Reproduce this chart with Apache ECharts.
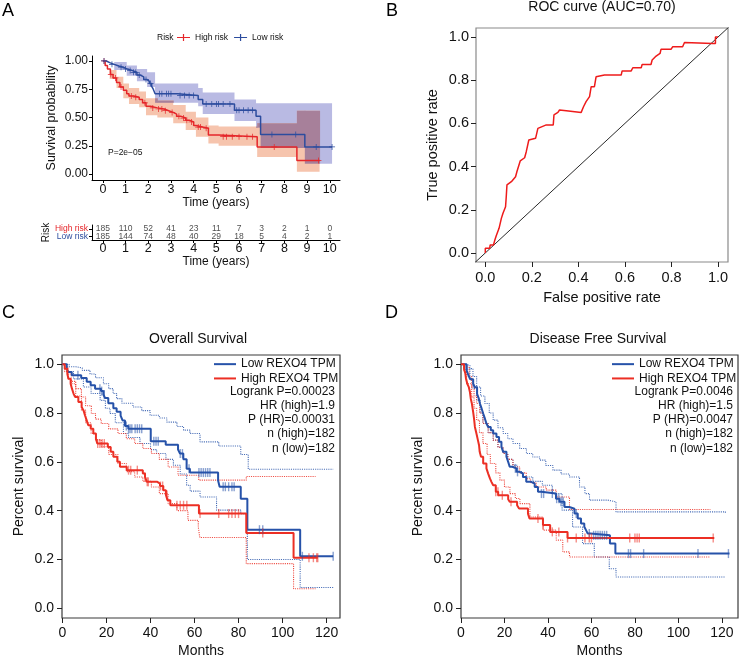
<!DOCTYPE html>
<html>
<head>
<meta charset="utf-8">
<script src="https://cdn.jsdelivr.net/npm/echarts@6/dist/echarts.min.js"></script>
<style>
  html, body { margin: 0; padding: 0; background: #fff; }
  #chart { width: 740px; height: 660px; }
</style>
</head>
<body>
<div id="chart"></div>
<script>
const FONT = 'Liberation Sans, Arial, Helvetica, sans-serif';

// ---- panel A: survival by risk group (years) ----
const aYearTicks = [0, 1, 2, 3, 4, 5, 6, 7, 8, 9, 10];
const aSurvTicks = [0, 0.25, 0.5, 0.75, 1];
// [time, survival] after each drop
const aHigh = [[0,1],[0.1,0.96],[0.2,0.93],[0.33,0.88],[0.45,0.85],[0.6,0.81],[0.75,0.77],[0.9,0.74],[1.05,0.71],[1.15,0.69],[1.35,0.68],[1.6,0.66],[1.75,0.63],[1.9,0.6],[2.1,0.585],[2.4,0.575],[2.7,0.56],[2.9,0.545],[3.1,0.53],[3.25,0.51],[3.45,0.495],[3.65,0.475],[3.8,0.46],[4.0,0.43],[4.1,0.415],[4.4,0.405],[4.65,0.345],[5.1,0.33],[6.8,0.24],[8.55,0.12],[9.55,0.12]];
const aLow = [[0,1],[0.15,0.985],[0.3,0.97],[0.5,0.955],[0.7,0.945],[0.9,0.93],[1.05,0.915],[1.3,0.9],[1.5,0.875],[1.65,0.86],[1.8,0.835],[1.95,0.82],[2.05,0.8],[2.15,0.775],[2.22,0.75],[2.3,0.71],[3.3,0.695],[4.2,0.66],[4.4,0.62],[5.8,0.565],[6.75,0.51],[6.95,0.35],[8.9,0.24],[10.1,0.24]];
// [time, lower, upper]
const aHighBand = [[0,1,1],[0.3,0.84,0.92],[0.6,0.76,0.86],[0.9,0.67,0.8],[1.15,0.62,0.76],[1.6,0.59,0.73],[1.9,0.52,0.67],[2.4,0.5,0.65],[3.1,0.45,0.61],[3.65,0.39,0.55],[4.1,0.33,0.5],[4.65,0.27,0.43],[5.1,0.25,0.42],[6.8,0.15,0.45],[8.55,0.02,0.56],[9.55,0.02,0.56]];
const aLowBand = [[0,1,1],[0.5,0.92,0.99],[1.05,0.87,0.96],[1.5,0.82,0.93],[1.95,0.77,0.9],[2.3,0.63,0.8],[4.2,0.6,0.76],[4.4,0.53,0.72],[5.8,0.47,0.66],[6.75,0.41,0.625],[6.95,0.23,0.625],[8.9,0.09,0.625],[10.1,0.09,0.625]];
const aHighCens = [0.05,0.35,0.55,0.8,1.25,1.45,1.85,2.2,2.45,2.6,2.75,3.05,3.35,3.55,3.7,3.9,4.2,4.3,4.55,5.3,5.45,5.7,6.0,6.35,6.6,7.55,9.5];
const aLowCens = [0.05,0.4,0.8,1.0,1.2,1.35,1.45,1.6,1.9,2.1,2.5,2.6,2.8,2.9,3.0,3.4,3.6,3.8,4.0,4.55,4.8,5.0,5.1,5.3,5.6,5.9,6.0,6.2,6.4,6.6,7.45,8.5,9.4,10.1];

// number at risk table
const riskGroups = ['Low risk', 'High risk'];
const riskHigh = [185, 110, 52, 41, 23, 11, 7, 3, 2, 1, 0];
const riskLow = [185, 144, 74, 48, 40, 29, 18, 5, 4, 2, 1];

// ---- panel B: ROC ----
const bTicks = [0, 0.2, 0.4, 0.6, 0.8, 1];
const rocFpr = [0,0,0.019,0.021,0.035,0.040,0.047,0.059,0.069,0.076,0.087,0.090,0.093,0.112,0.130,0.136,0.150,0.169,0.176,0.187,0.216,0.226,0.262,0.292,0.295,0.312,0.319,0.348,0.412,0.422,0.433,0.448,0.455,0.469,0.476,0.512,0.584,0.588,0.627,0.634,0.670,0.674,0.712,0.717,0.731,0.751,0.755,0.798,0.805,0.848,0.856,0.977,0.989,0.989,1.0];
const rocTpr = [0,0.022,0.022,0.037,0.037,0.056,0.080,0.114,0.160,0.184,0.214,0.26,0.315,0.330,0.353,0.377,0.426,0.441,0.469,0.523,0.531,0.577,0.593,0.593,0.639,0.651,0.662,0.659,0.651,0.677,0.701,0.724,0.770,0.770,0.816,0.824,0.824,0.843,0.843,0.858,0.858,0.873,0.873,0.894,0.909,0.924,0.943,0.943,0.955,0.955,0.975,0.970,0.970,1.0,1.0];
const bDiag = [-0.05, 1.05];

// ---- panels C / D: months ----
const monthTicks = [0, 20, 40, 60, 80, 100, 120];
const pctTicks = [0, 0.2, 0.4, 0.6, 0.8, 1];

const cLow = [[0,1],[1.9,0.982],[2.6,0.968],[4.2,0.955],[8.5,0.944],[11,0.928],[12.8,0.914],[14.8,0.9],[17.5,0.89],[18.6,0.876],[19.3,0.862],[20.8,0.84],[23.1,0.82],[24.6,0.805],[26.4,0.79],[27.3,0.77],[28.4,0.747],[29.9,0.736],[40.1,0.684],[46.9,0.67],[52.5,0.65],[53.4,0.634],[54.9,0.611],[56.4,0.572],[57.9,0.556],[70.7,0.524],[71.4,0.498],[81,0.449],[84,0.322],[108,0.213],[123,0.213]];
const cHigh = [[0,1],[1,0.982],[2.2,0.96],[2.7,0.941],[3.7,0.92],[4.3,0.9],[5,0.88],[5.7,0.866],[7.2,0.845],[8.7,0.825],[9.6,0.81],[10.2,0.791],[11,0.77],[11.7,0.75],[12.8,0.736],[14,0.716],[15.2,0.695],[15.8,0.675],[20.6,0.661],[21.9,0.641],[23.1,0.621],[24.9,0.6],[26.1,0.58],[29.2,0.566],[36.5,0.552],[37.5,0.538],[38.3,0.518],[43.1,0.511],[44.3,0.501],[45.8,0.484],[47,0.464],[47.7,0.443],[49,0.422],[62,0.388],[83.5,0.308],[105,0.207],[116,0.207]];
const cLowUp = [[0,1],[3,0.99],[6,0.985],[9,0.975],[12.5,0.96],[15,0.945],[18.6,0.92],[21,0.9],[23,0.88],[24.6,0.859],[27,0.84],[32,0.825],[36,0.81],[39.8,0.791],[44,0.78],[47.4,0.763],[52,0.745],[55,0.73],[57.9,0.716],[62.5,0.682],[71,0.665],[81,0.63],[84.4,0.57],[123,0.57]];
const cLowLo = [[0,1],[2,0.97],[5,0.94],[9.5,0.907],[13,0.88],[17.1,0.852],[19.5,0.82],[21.6,0.798],[24,0.76],[27.7,0.716],[30,0.7],[35.2,0.675],[40,0.65],[42.8,0.634],[47,0.61],[50.4,0.586],[53.5,0.55],[56.4,0.504],[58,0.48],[62.5,0.456],[70,0.402],[81,0.388],[84,0.2],[108,0.085],[123,0.085]];
const cHighUp = [[0,1],[1,0.99],[2.5,0.96],[4,0.93],[6,0.9],[8.6,0.866],[10.5,0.83],[13.1,0.798],[15,0.775],[17.6,0.757],[21,0.735],[25.2,0.716],[29,0.695],[32.8,0.675],[36.5,0.655],[40.4,0.634],[44,0.61],[48,0.579],[52.5,0.545],[61.9,0.525],[83.5,0.54],[115,0.54]];
const cHighLo = [[0,1],[1,0.97],[2.5,0.94],[4,0.92],[6,0.87],[8.6,0.812],[10.5,0.76],[13,0.716],[15,0.69],[17.6,0.662],[21,0.63],[25.2,0.593],[29,0.56],[32.8,0.538],[36.5,0.52],[40.4,0.497],[44,0.47],[48,0.429],[52,0.4],[57,0.36],[61.7,0.333],[62.4,0.29],[83.5,0.183],[105,0.08],[115,0.08]];
const cLowCens = [7,17,17.8,19,29,30,30.7,31.5,33,34,35,36,41.5,42.5,43.5,53.5,54.5,57.5,62,63,64,65,66,67,73,74,75.5,77,78,89.5,91,109,123];
const cHighCens = [16,17,18,19,30,31,34,37.5,38.5,39,44.5,45.5,47.5,52,53.5,55,56.5,62.5,71,75.5,77,78.5,80,91,112,114,115.5,116];

const dLow = [[0,1],[2.6,0.975],[3.4,0.955],[4.2,0.939],[5.6,0.92],[6.4,0.906],[7.4,0.879],[8.2,0.859],[8.7,0.839],[9.5,0.818],[10.2,0.798],[11,0.777],[11.7,0.757],[12.5,0.743],[13.7,0.73],[14.8,0.716],[16.3,0.702],[17.5,0.682],[18.6,0.661],[19.4,0.641],[20.9,0.621],[21.7,0.6],[22.4,0.58],[23.6,0.573],[25.5,0.559],[27,0.552],[28.5,0.538],[30,0.518],[32.3,0.511],[33.9,0.497],[35.4,0.477],[36.9,0.47],[43.7,0.449],[45.3,0.436],[47.6,0.415],[49.8,0.408],[52.2,0.388],[53.7,0.368],[55.2,0.347],[56.7,0.334],[57.5,0.32],[58.3,0.306],[59.5,0.299],[68.5,0.265],[71,0.224],[123.5,0.224]];
const dHigh = [[0,1],[1.4,0.98],[2,0.962],[2.3,0.941],[2.9,0.92],[3.6,0.906],[4.1,0.886],[4.5,0.859],[5,0.839],[5.6,0.804],[6,0.777],[6.4,0.743],[7.1,0.716],[7.8,0.688],[8.3,0.668],[8.6,0.641],[9.2,0.621],[10.2,0.593],[11.7,0.573],[12.5,0.552],[13.3,0.532],[14,0.518],[14.8,0.504],[16,0.477],[17.1,0.463],[21.7,0.447],[22.4,0.436],[25.8,0.422],[26.7,0.409],[30.8,0.388],[31.5,0.368],[37.7,0.341],[41,0.313],[49,0.288],[116.5,0.288]];
const dLowUp = [[0,1],[2,0.995],[4.1,0.982],[5.5,0.95],[7.2,0.907],[9,0.87],[11,0.839],[13,0.8],[14.8,0.771],[17,0.74],[19.4,0.716],[21.5,0.695],[23.9,0.675],[27,0.655],[30.1,0.634],[33,0.62],[36.2,0.607],[39,0.585],[42.3,0.566],[46,0.55],[49.9,0.538],[54.5,0.497],[57,0.47],[59.1,0.443],[67.5,0.436],[71.3,0.395],[121.6,0.39]];
const dLowLo = [[0,1],[2,0.98],[4.1,0.941],[5.5,0.9],[7.2,0.852],[8.8,0.8],[10.1,0.757],[12.5,0.72],[14.8,0.689],[17,0.66],[19.4,0.634],[21.5,0.61],[23.9,0.586],[26,0.56],[28.4,0.538],[33,0.52],[37.4,0.504],[42,0.47],[46.5,0.402],[51.3,0.333],[55.9,0.265],[61.3,0.21],[68.2,0.162],[71.3,0.128],[121.6,0.128]];
const dHighUp = [[0,1],[2.6,0.989],[3.8,0.95],[4.9,0.907],[6,0.87],[7.2,0.839],[8.6,0.8],[10.1,0.757],[12.5,0.72],[14.8,0.689],[17,0.66],[19.4,0.634],[21.5,0.61],[23.9,0.579],[27,0.555],[30,0.531],[32,0.515],[34.6,0.497],[39.2,0.484],[43.8,0.456],[49.9,0.405],[114.7,0.405]];
const dHighLo = [[0,1],[1.5,0.97],[2.6,0.92],[4.9,0.866],[6,0.82],[7.2,0.771],[8.5,0.72],[10.1,0.675],[12,0.63],[13.5,0.593],[16,0.555],[17.9,0.525],[20,0.497],[22.5,0.47],[25,0.45],[27.1,0.429],[31.7,0.374],[37.8,0.32],[43.8,0.279],[46.8,0.231],[49.9,0.21],[114.7,0.21]];
const dLowCens = [25,26,37,38,42,44,45,46,47,53,59,61,62,63,64,65,66,67,77,78,84,109,123];
const dHighCens = [16,17,19,23,35.4,37.7,42,45,49,53,57,59,60,77.6,80,81,82,116];

const RED_A = '#e5262a', BLUE_A = '#2c4c9e';
const RED_C = '#ec2f24', BLUE_C = '#2652a9';
const BAND_LOW = '#b9bae3', BAND_HIGH = '#f6c4ad', BAND_BOTH = '#a7809a';
const PLUS = 'path://M0,4.4H10V5.6H0ZM4.4,0H5.6V10H4.4Z';

/** survival value of a step curve at time t */
function survAt(curve, t) {
  let s = curve[0][1];
  for (const p of curve) { if (p[0] <= t) s = p[1]; }
  return s;
}
/** [lower, upper] of a step band at time t */
function bandAt(rows, t) {
  let r = rows[0];
  for (const p of rows) { if (p[0] <= t) r = p; }
  return [r[1], r[2]];
}

function kmLine(name, data, color, gi, width) {
  return { name, type: 'line', xAxisIndex: gi, yAxisIndex: gi, data, step: 'end',
    symbol: 'none', color, itemStyle: { color }, lineStyle: { color, width }, z: 3, silent: true };
}
function ciLine(name, data, color, gi) {
  return { name, type: 'line', xAxisIndex: gi, yAxisIndex: gi, data, step: 'end', symbol: 'none',
    lineStyle: { color, width: 1.1, type: 'dotted', opacity: 0.85 }, z: 2, silent: true };
}
function censor(name, curve, times, color, gi, symbol, size, opacity) {
  return { name, type: 'scatter', xAxisIndex: gi, yAxisIndex: gi,
    data: times.map(t => [t, survAt(curve, t)]), symbol, symbolSize: size,
    itemStyle: { color, opacity }, z: 4, silent: true };
}
/** step shaped confidence band as one polygon */
function band(name, rows, fill) {
  return { name, type: 'custom', xAxisIndex: 0, yAxisIndex: 0, data: rows, encode: { x: 0, y: [1, 2] }, z: 1, silent: true,
    renderItem: function (params, api) {
      if (params.dataIndex !== 0) return null;
      const up = [], lo = [];
      for (let i = 0; i < rows.length; i++) {
        const t = rows[i][0];
        const tn = i + 1 < rows.length ? rows[i + 1][0] : t;
        up.push(api.coord([t, rows[i][2]]), api.coord([tn, rows[i][2]]));
        lo.push(api.coord([t, rows[i][1]]), api.coord([tn, rows[i][1]]));
      }
      return { type: 'polygon', shape: { points: up.concat(lo.reverse()) }, style: { fill } };
    } };
}
/** where both bands cover the same area */
function bandOverlap(name, rowsA, rowsB, fill) {
  const endT = Math.min(rowsA[rowsA.length - 1][0], rowsB[rowsB.length - 1][0]);
  const cuts = Array.from(new Set(rowsA.map(r => r[0]).concat(rowsB.map(r => r[0]))))
    .filter(t => t <= endT).sort((a, b) => a - b);
  return { name, type: 'custom', xAxisIndex: 0, yAxisIndex: 0, data: [[cuts[0], 0]], z: 1, silent: true,
    renderItem: function (params, api) {
      const children = [];
      for (let k = 0; k + 1 < cuts.length; k++) {
        const mid = (cuts[k] + cuts[k + 1]) / 2;
        const a = bandAt(rowsA, mid), b = bandAt(rowsB, mid);
        const lo = Math.max(a[0], b[0]), hi = Math.min(a[1], b[1]);
        if (hi <= lo) continue;
        const p0 = api.coord([cuts[k], hi]), p1 = api.coord([cuts[k + 1], lo]);
        children.push({ type: 'rect', shape: { x: p0[0], y: p0[1], width: p1[0] - p0[0] + 0.5, height: p1[1] - p0[1] },
          style: { fill } });
      }
      return { type: 'group', children };
    } };
}

const txt = (size, extra) => Object.assign({ fontSize: size, color: '#111', fontFamily: FONT }, extra || {});

function valueAxis(gi, min, max, ticks, fmt, opts) {
  const o = opts || {};
  return {
    gridIndex: gi, type: 'value', min, max,
    axisLine: { show: !!o.line, onZero: false, lineStyle: { color: '#000', width: 1 } },
    axisTick: { show: true, customValues: ticks, length: o.tick || 4, lineStyle: { color: o.tickColor || '#222' } },
    axisLabel: { customValues: ticks, formatter: fmt, margin: o.margin, fontSize: o.fs, color: '#111', fontFamily: FONT },
    splitLine: { show: false },
    name: o.name, nameLocation: 'middle', nameGap: o.gap, nameRotate: o.rot,
    nameTextStyle: txt(o.nfs || o.fs)
  };
}

const fmt2 = v => v.toFixed(2), fmt1 = v => v.toFixed(1), fmt0 = v => String(v);

const chart = echarts.init(document.getElementById('chart'), null, { renderer: 'canvas' });

const option = {
  animation: false,
  backgroundColor: '#fff',
  textStyle: { fontFamily: FONT },
  title: [
    { text: 'A', left: 2, top: 2, padding: 0, textStyle: txt(18, { fontWeight: 'normal', color: '#000' }) },
    { text: 'B', left: 386, top: 2, padding: 0, textStyle: txt(18, { fontWeight: 'normal', color: '#000' }) },
    { text: 'C', left: 2, top: 304, padding: 0, textStyle: txt(18, { fontWeight: 'normal', color: '#000' }) },
    { text: 'D', left: 385, top: 304, padding: 0, textStyle: txt(18, { fontWeight: 'normal', color: '#000' }) },
    { text: 'Risk', left: 157, top: 33, padding: 0, textStyle: txt(8.5, { fontWeight: 'normal' }) },
    { text: 'P=2e\u221205', left: 108, top: 148, padding: 0, textStyle: txt(8.5, { fontWeight: 'normal' }) },
    { text: 'ROC curve (AUC=0.70)', left: 602, top: 0, textAlign: 'center', padding: 0, textStyle: txt(14, { fontWeight: 'normal' }) },
    { text: 'Overall Survival', left: 198, top: 332, textAlign: 'center', padding: 0, textStyle: txt(14, { fontWeight: 'normal' }) },
    { text: 'Disease Free Survival', left: 598, top: 332, textAlign: 'center', padding: 0, textStyle: txt(14, { fontWeight: 'normal' }) },
    { text: 'Logrank P=0.00023\nHR (high)=1.9\nP (HR)=0.00031\nn (high)=182\nn (low)=182', left: 335, top: 384.6,
      textAlign: 'right', padding: 0, textStyle: txt(12, { fontWeight: 'normal', lineHeight: 14.15, align: 'right' }) },
    { text: 'Logrank P=0.0046\nHR (high)=1.5\nP (HR)=0.0047\nn (high)=182\nn (low)=182', left: 733, top: 384.6,
      textAlign: 'right', padding: 0, textStyle: txt(12, { fontWeight: 'normal', lineHeight: 14.15, align: 'right' }) }
  ],
  legend: [
    { data: ['High risk', 'Low risk'], left: 177, top: 33, padding: 0, itemWidth: 13, itemHeight: 7, itemGap: 6,
      icon: 'path://M0,2.9H13V4.1H0ZM5.9,0H7.1V7H5.9Z', selectedMode: false, textStyle: txt(8.5) },
    { data: ['Low REXO4 TPM', 'High REXO4 TPM'], orient: 'vertical', left: 214, top: 357, padding: 0, icon: 'rect',
      itemWidth: 22, itemHeight: 2, itemGap: 0, selectedMode: false, textStyle: txt(12, { lineHeight: 14.3 }) },
    { data: ['Low REXO4 TPM', 'High REXO4 TPM'], orient: 'vertical', left: 612, top: 357, padding: 0, icon: 'rect',
      itemWidth: 22, itemHeight: 2, itemGap: 0, selectedMode: false, textStyle: txt(12, { lineHeight: 14.3 }) }
  ],
  grid: [
    { left: 92, top: 56, width: 248, height: 124 },
    { left: 92, top: 225, width: 248, height: 15 },
    { left: 476, top: 28, width: 252, height: 234, show: true, borderColor: '#8a8a8a', borderWidth: 1.2 },
    { left: 62, top: 355, width: 278, height: 263, show: true, borderColor: '#3a3a3a', borderWidth: 1.2 },
    { left: 461, top: 355, width: 277, height: 263, show: true, borderColor: '#3a3a3a', borderWidth: 1.2 }
  ],
  xAxis: [
    valueAxis(0, -0.48, 10.45, aYearTicks, fmt0, { line: true, tick: 3, margin: 3, fs: 12.5, name: 'Time (years)', gap: 13, nfs: 12, tickColor: '#000' }),
    valueAxis(1, -0.48, 10.45, aYearTicks, fmt0, { line: true, tick: 3, margin: 2, fs: 12.5, name: 'Time (years)', gap: 14, nfs: 12, tickColor: '#000' }),
    valueAxis(2, -0.04, 1.043, bTicks, fmt1, { tick: 5, margin: 8, fs: 14.5, name: 'False positive rate', gap: 28 }),
    valueAxis(3, -0.23, 126.1, monthTicks, fmt0, { tick: 5, margin: 8, fs: 14, name: 'Months', gap: 26 }),
    valueAxis(4, 0, 127.4, monthTicks, fmt0, { tick: 5, margin: 8, fs: 14, name: 'Months', gap: 26 })
  ],
  yAxis: [
    valueAxis(0, -0.053, 1.044, aSurvTicks, fmt2, { line: true, tick: 3, margin: 4, fs: 12, name: 'Survival probability', gap: 34, rot: 90, nfs: 12.5, tickColor: '#000' }),
    {
      gridIndex: 1, type: 'category', data: riskGroups,
      axisLine: { show: true, onZero: false, lineStyle: { color: '#000' } },
      axisTick: { show: true, length: 3, alignWithLabel: true, interval: 0, lineStyle: { color: '#000' } },
      axisLabel: { margin: 4, interval: 0, fontSize: 8.5, fontFamily: FONT,
        formatter: v => v === 'High risk' ? '{h|High risk}' : '{l|Low risk}',
        rich: { h: { color: RED_A, fontSize: 8.5, fontFamily: FONT }, l: { color: BLUE_A, fontSize: 8.5, fontFamily: FONT } } },
      name: 'Risk', nameLocation: 'middle', nameRotate: 90, nameGap: 40, nameTextStyle: txt(10)
    },
    valueAxis(2, -0.042, 1.042, bTicks, fmt1, { tick: 5, margin: 7, fs: 14.5, name: 'True positive rate', gap: 36, rot: 90 }),
    valueAxis(3, -0.04, 1.038, pctTicks, fmt1, { tick: 5, margin: 8, fs: 14, name: 'Percent survival', gap: 36, rot: 90 }),
    valueAxis(4, -0.04, 1.038, pctTicks, fmt1, { tick: 5, margin: 8, fs: 14, name: 'Percent survival', gap: 36, rot: 90 })
  ],
  series: [
    // A
    band('Low band', aLowBand, BAND_LOW),
    band('High band', aHighBand, BAND_HIGH),
    bandOverlap('Both bands', aLowBand, aHighBand, BAND_BOTH),
    kmLine('High risk', aHigh, RED_A, 0, 1.5),
    kmLine('Low risk', aLow, BLUE_A, 0, 1.5),
    censor('High cens', aHigh, aHighCens, RED_A, 0, PLUS, 6, 1),
    censor('Low cens', aLow, aLowCens, BLUE_A, 0, PLUS, 6, 1),
    // risk table
    { name: 'risk high', type: 'scatter', xAxisIndex: 1, yAxisIndex: 1, symbolSize: 1, silent: true,
      itemStyle: { color: 'transparent' },
      data: aYearTicks.map((y, i) => [y, 'High risk', riskHigh[i]]),
      label: { show: true, position: 'inside', formatter: p => p.value[2], fontSize: 8.5, color: '#222', fontFamily: FONT } },
    { name: 'risk low', type: 'scatter', xAxisIndex: 1, yAxisIndex: 1, symbolSize: 1, silent: true,
      itemStyle: { color: 'transparent' },
      data: aYearTicks.map((y, i) => [y, 'Low risk', riskLow[i]]),
      label: { show: true, position: 'inside', formatter: p => p.value[2], fontSize: 8.5, color: '#222', fontFamily: FONT } },
    // B
    { name: 'diag', type: 'line', xAxisIndex: 2, yAxisIndex: 2, data: bDiag.map(v => [v, v]), symbol: 'none',
      lineStyle: { color: '#111', width: 0.9 }, silent: true },
    { name: 'ROC', type: 'line', xAxisIndex: 2, yAxisIndex: 2, data: rocFpr.map((f, i) => [f, rocTpr[i]]), symbol: 'none',
      lineStyle: { color: '#ee1b1b', width: 1.5 }, silent: true },
    // C
    ciLine('c low up', cLowUp, BLUE_C, 3), ciLine('c low lo', cLowLo, BLUE_C, 3),
    ciLine('c high up', cHighUp, RED_C, 3), ciLine('c high lo', cHighLo, RED_C, 3),
    kmLine('Low REXO4 TPM', cLow, BLUE_C, 3, 2),
    kmLine('High REXO4 TPM', cHigh, RED_C, 3, 2),
    censor('c low cens', cLow, cLowCens, BLUE_C, 3, 'rect', [1.4, 9], 0.55),
    censor('c high cens', cHigh, cHighCens, RED_C, 3, 'rect', [1.4, 9], 0.55),
    // D
    ciLine('d low up', dLowUp, BLUE_C, 4), ciLine('d low lo', dLowLo, BLUE_C, 4),
    ciLine('d high up', dHighUp, RED_C, 4), ciLine('d high lo', dHighLo, RED_C, 4),
    kmLine('Low REXO4 TPM', dLow, BLUE_C, 4, 2),
    kmLine('High REXO4 TPM', dHigh, RED_C, 4, 2),
    censor('d low cens', dLow, dLowCens, BLUE_C, 4, 'rect', [1.4, 9], 0.55),
    censor('d high cens', dHigh, dHighCens, RED_C, 4, 'rect', [1.4, 9], 0.55)
  ]
};

chart.setOption(option);
</script>
</body>
</html>
